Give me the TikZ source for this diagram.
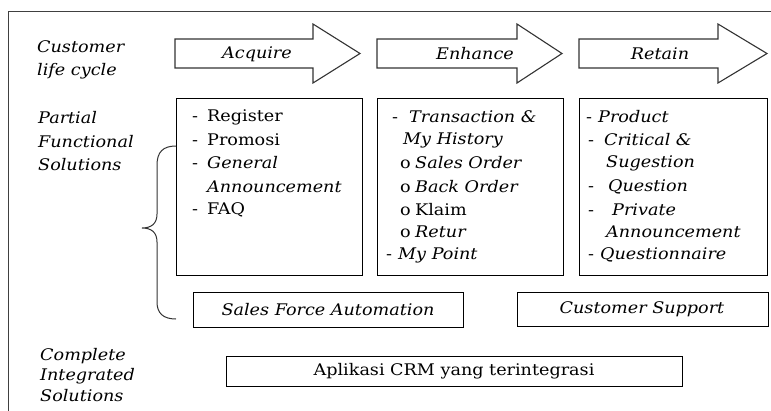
\documentclass[tikz,border=0pt]{standalone}
\usepackage{fontspec}
\setmainfont{DejaVu Serif}[FakeStretch=1.1]
\begin{document}
\begin{tikzpicture}[x=1pt,y=-1pt,
  txt/.style={inner sep=0pt,font=\fontsize{16}{19}\selectfont},
  itx/.style={txt,font=\fontsize{16}{19}\selectfont\itshape},
  item/.style={inner sep=0pt,anchor=west,font=\fontsize{16}{19}\selectfont},
  side/.style={inner sep=0pt,anchor=west,font=\fontsize{16}{19}\selectfont\itshape},
  frameline/.style={draw=black!75,line width=1.2pt},
  phase/.style={draw=black!80,line width=1.1pt},
  panel/.style={draw=black,line width=1pt}]
\useasboundingbox (0,0) rectangle (771,410);

% outer frame (only top and left edges fall inside the page)
\draw[frameline] (8.5,420) -- (8.5,11.5) -- (780,11.5);

% row labels on the left
\node[side] (lc1) at (37,47) {Customer};
\node[side] (lc2) at (37,71) {life cycle};
\node[side] (pf1) at (38,118) {Partial};
\node[side] (pf2) at (38,142) {Functional};
\node[side] (pf3) at (38,165) {Solutions};
\node[side] (ci1) at (40,356) {Complete};
\node[side] (ci2) at (40,376) {Integrated};
\node[side] (ci3) at (40,396) {Solutions};

% life-cycle phase arrows
\draw[phase] (175,39) -- (313,39) -- (313,24) -- (360,53.5) -- (313,83) -- (313,68) -- (175,68) -- cycle;
\draw[phase] (377,39) -- (517,39) -- (517,24) -- (562,53.5) -- (517,83) -- (517,68) -- (377,68) -- cycle;
\draw[phase] (579,39) -- (718,39) -- (718,24) -- (767,53.5) -- (718,83) -- (718,68) -- (579,68) -- cycle;
\node[itx] (acq) at (257,54) {Acquire};
\node[itx] (enh) at (475,54) {Enhance};
\node[itx] (ret) at (660,54) {Retain};

% functional panels
\draw[panel] (176,98) rectangle (362,275);
\draw[panel] (377,98) rectangle (563,275);
\draw[panel] (579,98) rectangle (767,275);

% panel 1: Acquire
\node[item] (a1) at (192,117) {\makebox[15pt][l]{-}Register};
\node[item] (a2) at (192,140) {\makebox[15pt][l]{-}Promosi};
\node[item] (a3) at (192,163) {\makebox[15pt][l]{-}\textit{General}};
\node[item] (a4) at (207,187) {\textit{Announcement}};
\node[item] (a5) at (192,210) {\makebox[15pt][l]{-}FAQ};

% panel 2: Enhance
\node[item] (e1) at (392,117) {\makebox[17pt][l]{-}\textit{Transaction \&}};
\node[item] (e2) at (403,140) {\textit{My History}};
\node[item] (e3) at (400,163) {\makebox[15pt][l]{o}\textit{Sales Order}};
\node[item] (e4) at (400,187) {\makebox[15pt][l]{o}\textit{Back Order}};
\node[item] (e5) at (400,210) {\makebox[15pt][l]{o}Klaim};
\node[item] (e6) at (400,232) {\makebox[15pt][l]{o}\textit{Retur}};
\node[item] (e7) at (386,255) {\makebox[12pt][l]{-}\textit{My Point}};

% panel 3: Retain
\node[item] (r1) at (586,117) {\makebox[12pt][l]{-}\textit{Product}};
\node[item] (r2) at (588,140) {\makebox[16pt][l]{-}\textit{Critical \&}};
\node[item] (r3) at (606,163) {\textit{Sugestion}};
\node[item] (r4) at (588,187) {\makebox[20pt][l]{-}\textit{Question}};
\node[item] (r5) at (588,210) {\makebox[24pt][l]{-}\textit{Private}};
\node[item] (r6) at (606,232) {\textit{Announcement}};
\node[item] (r7) at (588,255) {\makebox[12pt][l]{-}\textit{Questionnaire}};

% brace grouping the partial solutions
\draw[black!80,line width=1pt]
  (176,146) .. controls (163,146) and (157,152) .. (157,165)
  -- (157,214) .. controls (157,224) and (151,228) .. (142,228)
  .. controls (151,228) and (157,232) .. (157,242)
  -- (157,302) .. controls (157,313) and (163,319) .. (176,319);

% solution groups
\draw[panel] (193,292) rectangle (463,327);
\node[itx] (sfa) at (328,309.5) {Sales Force Automation};
\draw[panel] (517,292) rectangle (768,326);
\node[itx] (cs) at (642,309) {Customer Support};

% integrated application
\draw[panel] (226,356) rectangle (682,386);
\node[txt] (crm) at (454,371) {Aplikasi CRM yang terintegrasi};
\end{tikzpicture}
\end{document}
